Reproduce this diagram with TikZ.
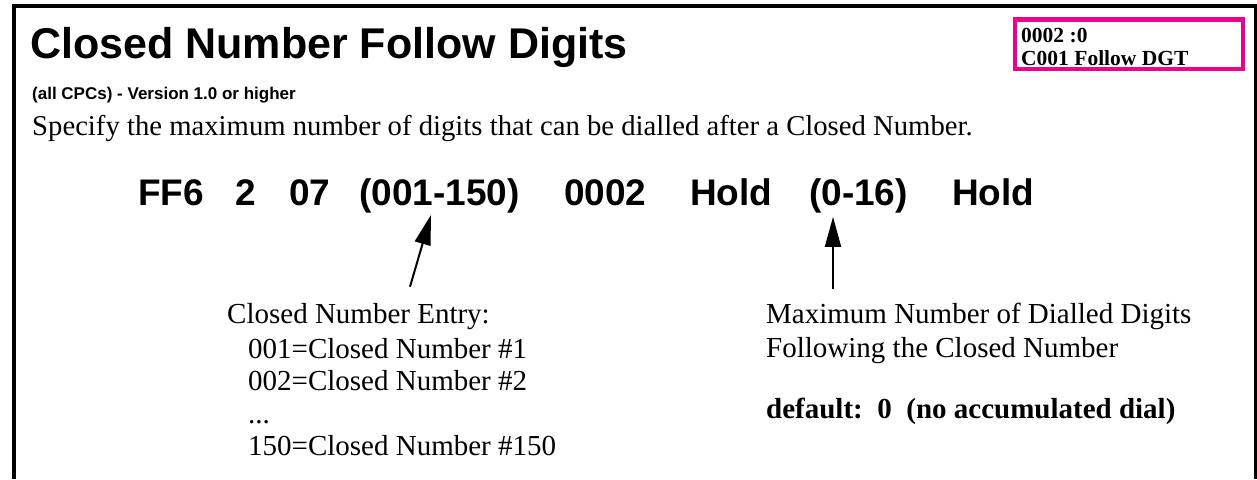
\documentclass[tikz,border=0pt]{standalone}
\usepackage{fontspec}
\setmainfont{Liberation Serif}
\setsansfont{Liberation Sans}
\usetikzlibrary{arrows.meta}

\begin{document}
\begin{tikzpicture}[x=1pt,y=-1pt,
  word/.style={anchor=base west,inner sep=0pt,font=\sffamily\bfseries\fontsize{37}{44}\selectfont},
  note/.style={anchor=base west,inner sep=0pt,font=\fontsize{29}{33}\selectfont},
  tagtext/.style={anchor=base west,inner sep=0pt,font=\bfseries\fontsize{21.5}{25}\selectfont},
  pointer/.style={line width=2pt,-{Triangle[length=30pt,width=16pt]}}]
\useasboundingbox (0,0) rectangle (1257,479);
\draw[line width=4pt] (14,479) -- (14,6) -- (1256,6) -- (1256,479);

% heading
\node[anchor=base west,inner sep=0pt,font=\sffamily\bfseries\fontsize{43}{50}\selectfont] (title) at (30,58) {Closed Number Follow Digits};
\node[anchor=base west,inner sep=0pt,font=\sffamily\bfseries\fontsize{17}{20}\selectfont] (cpc) at (32,99) {(all CPCs) - Version 1.0 or higher};
\node[anchor=base west,inner sep=0pt,font=\fontsize{28.7}{33}\selectfont] (desc) at (32,135) {Specify the maximum number of digits that can be dialled after a Closed Number.};

% tag box
\node[draw=magenta,line width=4.5pt,minimum width=228pt,minimum height=49.5pt,inner sep=0pt,outer sep=0pt] (tag) at (1129,44.25) {};
\node[tagtext] (tagA) at ([shift={(6pt,-22.5pt)}]tag.north west) {0002 :0};
\node[tagtext] (tagB) at ([shift={(6pt,-45.5pt)}]tag.north west) {C001 Follow DGT};

% programming sequence
\node[word] (ff) at (138,205) {FF6};
\node[word] (sys) at (235,205) {2};
\node[word] (grp) at (289,205) {07};
\node[word] (range) at (359,205) {(001-150)};
\node[word] (addr) at (564,205) {0002};
\node[word] (holdA) at (690,205) {Hold};
\node[word] (digits) at (809,205) {(0-16)};
\node[word] (holdB) at (952,205) {Hold};

% closed number entry
\node[note] (entry) at (227,323) {Closed Number Entry:};
\node[note] (entryA) at (248,358) {001=Closed Number \#1};
\node[note] (entryB) at (248,390) {002=Closed Number \#2};
\node[note] (entryC) at (248,423) {...};
\node[note] (entryD) at (248,455) {150=Closed Number \#150};

% maximum digits
\node[note] (maxA) at (766,323) {Maximum Number of Dialled Digits};
\node[note] (maxB) at (766,357) {Following the Closed Number};
\node[note,font=\bfseries\fontsize{29}{33}\selectfont] (dflt) at (766,418) {default:~~0~~(no accumulated dial)};

\draw[pointer] ([shift={(183pt,16pt)}]entry.north west) -- ([shift={(72pt,-2pt)}]range.south west);
\draw[pointer] ([shift={(67pt,13pt)}]maxA.north west) -- ([shift={(24pt,-4pt)}]digits.south west);
\end{tikzpicture}
\end{document}
